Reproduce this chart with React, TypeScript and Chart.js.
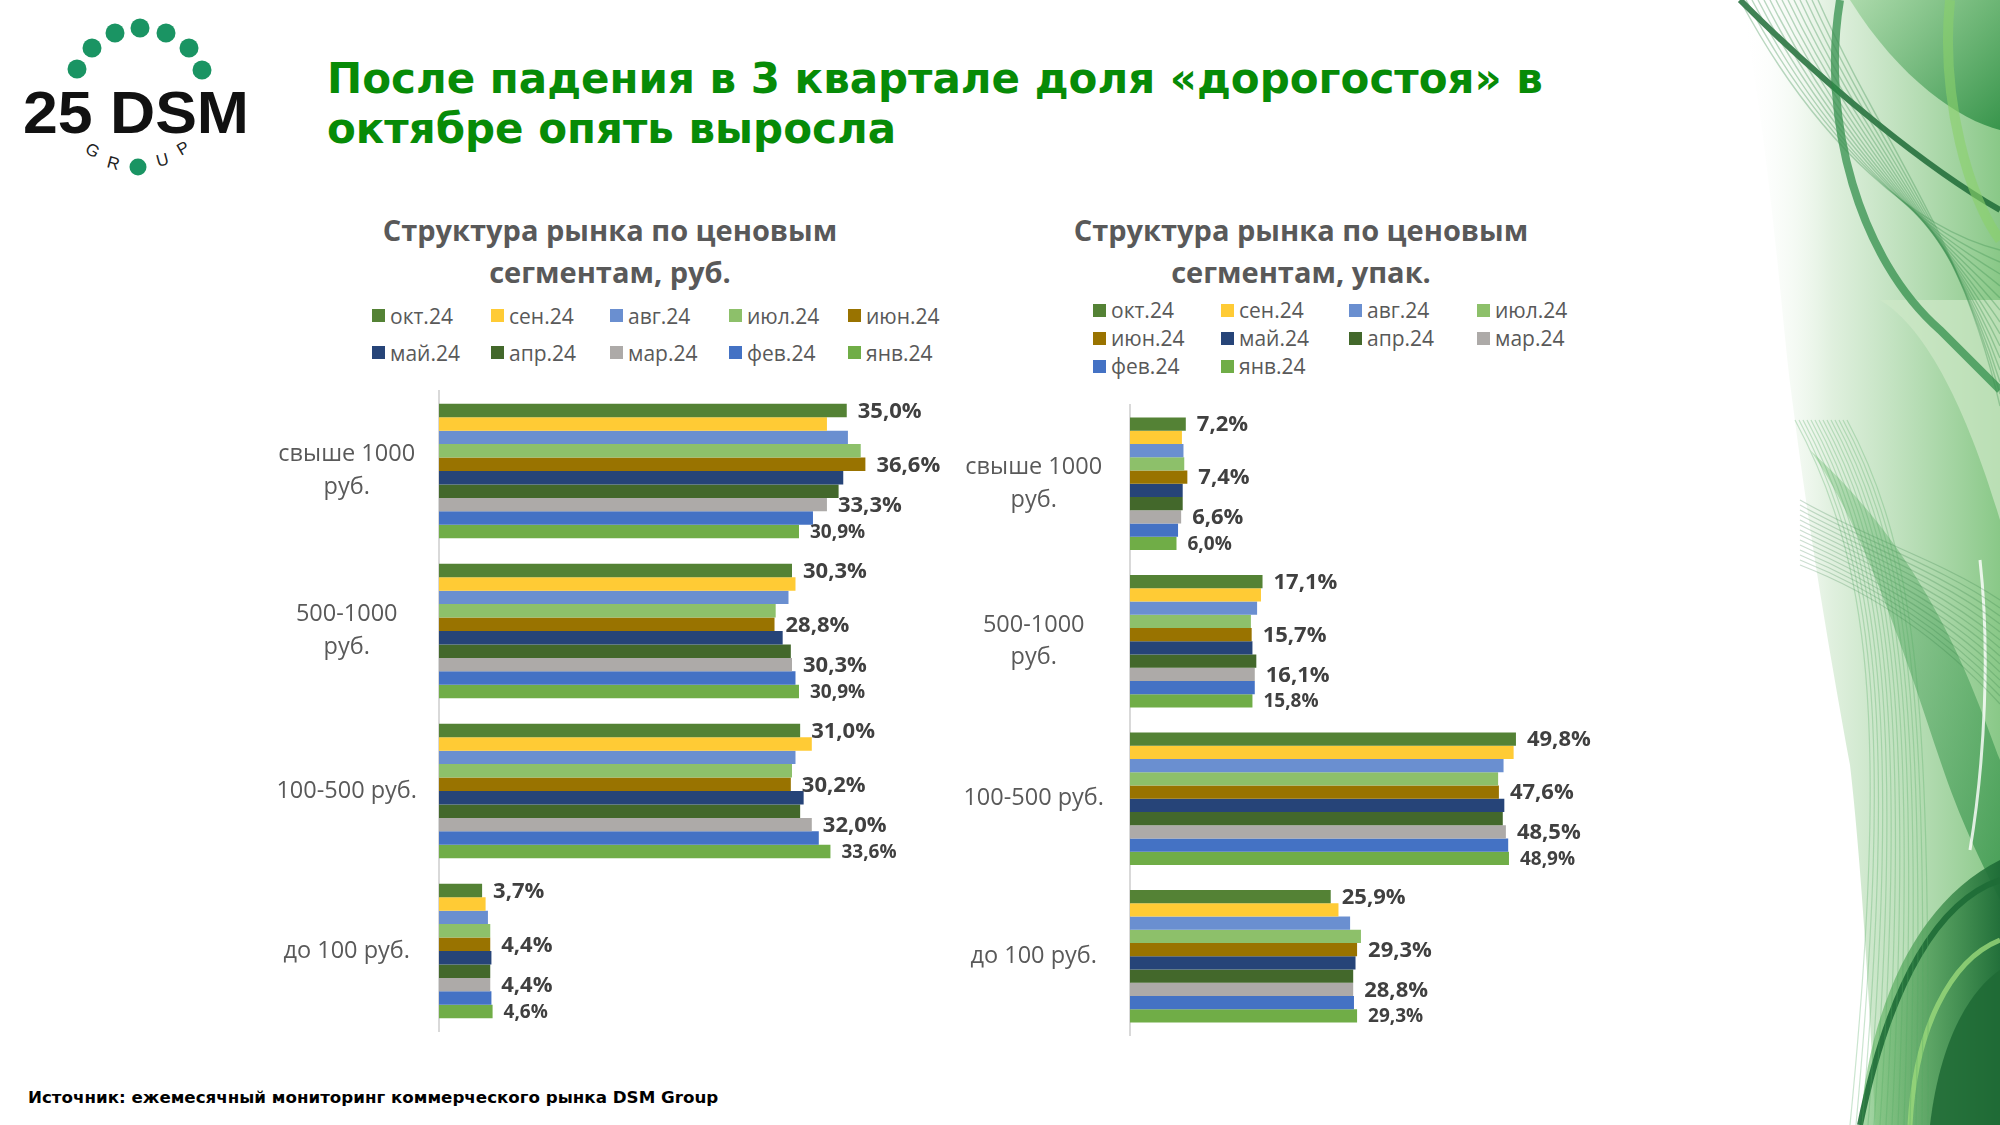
import React, { useEffect, useRef } from "react";
import { Chart, registerables } from "chart.js";

Chart.register(...registerables);

// ---------- data ----------
const months = ["окт.24", "сен.24", "авг.24", "июл.24", "июн.24", "май.24", "апр.24", "мар.24", "фев.24", "янв.24"];
const monthColors = ["#548235", "#FFCB35", "#6A8FD0", "#8DC06A", "#997300", "#264478", "#43682B", "#ADAAA8", "#4472C4", "#70AD47"];
const categories = [["свыше 1000", "руб."], ["500-1000", "руб."], "100-500 руб.", "до 100 руб."];
const labeledSeries = [0, 4, 7, 9];

// market share by value (руб.), per month: [свыше 1000, 500-1000, 100-500, до 100]
const rubOct = [35.0, 30.3, 31.0, 3.7];
const rubSep = [33.3, 30.6, 32.0, 4.0];
const rubAug = [35.1, 30.0, 30.6, 4.2];
const rubJul = [36.2, 28.9, 30.3, 4.4];
const rubJun = [36.6, 28.8, 30.2, 4.4];
const rubMay = [34.7, 29.5, 31.3, 4.5];
const rubApr = [34.3, 30.2, 31.0, 4.4];
const rubMar = [33.3, 30.3, 32.0, 4.4];
const rubFeb = [32.1, 30.6, 32.6, 4.5];
const rubJan = [30.9, 30.9, 33.6, 4.6];

// market share by packs (упак.)
const upOct = [7.2, 17.1, 49.8, 25.9];
const upSep = [6.7, 16.9, 49.5, 26.9];
const upAug = [6.9, 16.4, 48.2, 28.4];
const upJul = [7.0, 15.6, 47.5, 29.8];
const upJun = [7.4, 15.7, 47.6, 29.3];
const upMay = [6.8, 15.8, 48.3, 29.1];
const upApr = [6.8, 16.3, 48.1, 28.8];
const upMar = [6.6, 16.1, 48.5, 28.8];
const upFeb = [6.2, 16.1, 48.8, 28.9];
const upJan = [6.0, 15.8, 48.9, 29.3];

const rubSeries = [rubOct, rubSep, rubAug, rubJul, rubJun, rubMay, rubApr, rubMar, rubFeb, rubJan];
const upSeries = [upOct, upSep, upAug, upJul, upJun, upMay, upApr, upMar, upFeb, upJan];

const fmt = (v: number) => v.toFixed(1).replace(".", ",") + "%";

const valueLabelPlugin = {
  id: "valueLabels",
  afterDatasetsDraw(chart: any) {
    const ctx = chart.ctx;
    ctx.save();
    ctx.fillStyle = "#404040";
    ctx.textBaseline = "middle";
    ctx.textAlign = "left";
    labeledSeries.forEach((di) => {
      const meta = chart.getDatasetMeta(di);
      const small = di === 9;
      ctx.font = `bold ${small ? 19 : 22}px "Open Sans"`;
      meta.data.forEach((bar: any, j: number) => {
        const v = chart.data.datasets[di].data[j];
        ctx.fillText(fmt(v), bar.x + 11, bar.y + 1);
      });
    });
    ctx.restore();
  },
};

type BarProps = {
  series: number[][];
  xMax: number;
  axisWidth: number;
  tickPadding: number;
  padding: { top: number; bottom: number; left: number; right: number };
  left: number;
  top: number;
  width: number;
  height: number;
};

function BarChart(p: BarProps) {
  const ref = useRef<HTMLCanvasElement>(null);
  useEffect(() => {
    if (!ref.current) return;
    const chart = new Chart(ref.current, {
      type: "bar",
      data: {
        labels: categories as any,
        datasets: months.map((m, i) => ({
          label: m,
          data: p.series[i],
          backgroundColor: monthColors[i],
          borderWidth: 0,
          categoryPercentage: 0.84,
          barPercentage: 1,
        })),
      },
      options: {
        indexAxis: "y",
        animation: false,
        responsive: true,
        maintainAspectRatio: false,
        layout: { padding: p.padding },
        plugins: { legend: { display: false }, tooltip: { enabled: false } },
        scales: {
          x: { display: false, min: 0, max: p.xMax },
          y: {
            grid: { display: false, drawTicks: false },
            border: { display: true, color: "#D9D9D9", width: 2 },
            ticks: {
              padding: p.tickPadding,
              crossAlign: "center",
              color: "#595959",
              font: { family: "Open Sans", size: 23.5, lineHeight: 1.38 },
            },
            afterFit: (s: any) => {
              s.width = p.axisWidth;
              s.paddingTop = 0;
              s.paddingBottom = 0;
            },
          },
        },
      } as any,
      plugins: [valueLabelPlugin],
    });
    return () => chart.destroy();
  }, []);
  return (
    <div style={{ position: "absolute", left: p.left, top: p.top, width: p.width, height: p.height }}>
      <canvas ref={ref} />
    </div>
  );
}

function Legend({ left, top, cols, colWidth, rowHeight }: { left: number; top: number; cols: number; colWidth: number; rowHeight: number }) {
  return (
    <div
      style={{
        position: "absolute",
        left,
        top,
        display: "grid",
        gridTemplateColumns: `repeat(${cols}, ${colWidth}px)`,
        gridAutoRows: `${rowHeight}px`,
        fontFamily: "Open Sans",
        fontSize: 21,
        color: "#595959",
      }}
    >
      {months.map((m, i) => (
        <div key={m} style={{ display: "flex", alignItems: "center", whiteSpace: "nowrap" }}>
          <span style={{ width: 13, height: 13, background: monthColors[i], marginRight: 5, display: "inline-block", flex: "none" }} />
          <span>{m}</span>
        </div>
      ))}
    </div>
  );
}

function ChartTitle({ cx, lines }: { cx: number; lines: string[] }) {
  return (
    <div
      style={{
        position: "absolute",
        left: cx - 300,
        width: 600,
        top: 209,
        textAlign: "center",
        fontFamily: "Open Sans",
        fontWeight: 700,
        fontSize: 29,
        lineHeight: "42px",
        color: "#595959",
        whiteSpace: "nowrap",
      }}
    >
      {lines.map((l) => (
        <div key={l}>{l}</div>
      ))}
    </div>
  );
}

function Logo() {
  const dots = [
    [77, 69], [92, 48], [115, 33], [140, 28], [166, 33], [189, 48], [202, 70],
  ];
  return (
    <svg style={{ position: "absolute", left: 0, top: 0 }} width={270} height={190}>
      {dots.map(([x, y], i) => (
        <circle key={i} cx={x} cy={y} r={9.5} fill="#1A9463" />
      ))}
      <text x={23} y={133} fontFamily="Liberation Sans" fontWeight={700} fontSize={60} fill="#111" textLength={226} lengthAdjust="spacingAndGlyphs">
        25 DSM
      </text>
      <text x={84} y={152} fontFamily="Liberation Sans" fontSize={17} fill="#222" transform="rotate(30 84 152)">G</text>
      <text x={106} y={167} fontFamily="Liberation Sans" fontSize={17} fill="#222" transform="rotate(15 106 167)">R</text>
      <circle cx={138} cy={167} r={8.5} fill="#1A9463" />
      <text x={158} y={167} fontFamily="Liberation Sans" fontSize={17} fill="#222" transform="rotate(-15 158 167)">U</text>
      <text x={181} y={156} fontFamily="Liberation Sans" fontSize={17} fill="#222" transform="rotate(-30 181 156)">P</text>
    </svg>
  );
}

function Decoration() {
  const bundle: JSX.Element[] = [];
  for (let k = 0; k < 14; k++) {
    bundle.push(
      <path key={"a" + k} d={`M ${40 + k * 6} 0 C ${120 + k * 5} 150, ${220 + k * 3} 230, 300 ${250 + k * 12}`} stroke="#3C8F4F" strokeOpacity={0.35} strokeWidth={1.4} fill="none" />
    );
    bundle.push(
      <path key={"b" + k} d={`M ${95 + k * 4} 420 C ${170 + k * 4} 560, ${190 + k * 3} 720, ${150 + k * 6} 1125`} stroke="#4FA85F" strokeOpacity={0.3} strokeWidth={1.2} fill="none" />
    );
    bundle.push(
      <path key={"c" + k} d={`M 100 ${500 + k * 5} C 170 ${540 + k * 4}, 240 ${560 + k * 6}, 300 ${600 + k * 8}`} stroke="#2E7D42" strokeOpacity={0.25} strokeWidth={1.2} fill="none" />
    );
  }
  return (
    <svg style={{ position: "absolute", left: 1700, top: 0 }} width={300} height={1125} viewBox="0 0 300 1125">
      <defs>
        <linearGradient id="dg1" x1="0" y1="0" x2="1" y2="0">
          <stop offset="0" stopColor="#ffffff" stopOpacity="0" />
          <stop offset="0.35" stopColor="#d8ecd6" stopOpacity="0.8" />
          <stop offset="1" stopColor="#7cc27a" stopOpacity="0.9" />
        </linearGradient>
        <linearGradient id="dg2" x1="0" y1="0" x2="1" y2="1">
          <stop offset="0" stopColor="#9ad29a" stopOpacity="0.7" />
          <stop offset="1" stopColor="#2f8f45" stopOpacity="0.9" />
        </linearGradient>
        <linearGradient id="dg3" x1="0" y1="0" x2="1" y2="0">
          <stop offset="0" stopColor="#6cbf6a" stopOpacity="0.6" />
          <stop offset="1" stopColor="#1d6b36" stopOpacity="0.95" />
        </linearGradient>
      </defs>
      <path d="M 41 0 C 70 150, 80 300, 90 383 C 105 500, 120 600, 150 765 C 160 850, 170 1000, 175 1125 L 300 1125 L 300 0 Z" fill="url(#dg1)" />
      <path d="M 150 0 C 200 80, 260 120, 300 130 L 300 0 Z" fill="url(#dg2)" />
      <path d="M 180 300 C 230 330, 270 420, 300 520 L 300 300 Z" fill="#cfe8c8" opacity={0.7} />
      <path d="M 110 450 C 160 520, 200 640, 240 760 C 260 820, 280 860, 300 900 L 300 760 C 270 680, 230 560, 110 450 Z" fill="url(#dg2)" opacity={0.8} />
      <path d="M 160 1125 C 170 1000, 220 900, 300 860 L 300 1125 Z" fill="url(#dg3)" />
      <path d="M 230 1125 C 240 1040, 270 990, 300 970 L 300 1125 Z" fill="#1f6a35" opacity={0.85} />
      <path d="M 40 0 C 130 90, 230 170, 300 210" stroke="#1f6b37" strokeWidth={6} fill="none" opacity={0.85} />
      <path d="M 140 0 C 120 120, 160 260, 240 330 C 270 360, 290 380, 300 390" stroke="#2a8a44" strokeWidth={8} fill="none" opacity={0.7} />
      <path d="M 250 0 C 240 100, 270 200, 300 240" stroke="#8bd16a" strokeWidth={10} fill="none" opacity={0.6} />
      <path d="M 160 1125 C 190 980, 240 900, 300 880" stroke="#1e6b36" strokeWidth={6} fill="none" opacity={0.9} />
      <path d="M 210 1125 C 215 1030, 250 960, 300 940" stroke="#9bd97a" strokeWidth={5} fill="none" opacity={0.8} />
      <path d="M 280 560 C 290 650, 285 760, 270 850" stroke="#ffffff" strokeWidth={3} fill="none" opacity={0.8} />
      {bundle}
    </svg>
  );
}

export default function App() {
  return (
    <div style={{ position: "fixed", left: 0, top: 0, width: 2000, height: 1125, background: "#ffffff", overflow: "hidden" }}>
      <Decoration />
      <Logo />
      <div
        style={{
          position: "absolute",
          left: 327,
          top: 54,
          fontFamily: "DejaVu Sans",
          fontWeight: 700,
          fontSize: 42,
          lineHeight: "50px",
          color: "#078B07",
          whiteSpace: "nowrap",
        }}
      >
        После падения в 3 квартале доля «дорогостоя» в
        <br />
        октябре опять выросла
      </div>

      <ChartTitle cx={610} lines={["Структура рынка по ценовым", "сегментам, руб."]} />
      <ChartTitle cx={1301} lines={["Структура рынка по ценовым", "сегментам, упак."]} />

      <Legend left={372} top={297} cols={5} colWidth={119} rowHeight={37} />
      <Legend left={1093} top={296} cols={4} colWidth={128} rowHeight={28} />

      <BarChart
        series={rubSeries}
        xMax={40}
        axisWidth={239}
        tickPadding={22}
        padding={{ top: 6, bottom: 14, left: 0, right: 55 }}
        left={200}
        top={385}
        width={760}
        height={660}
      />
      <BarChart
        series={upSeries}
        xMax={60}
        axisWidth={170}
        tickPadding={26}
        padding={{ top: 10, bottom: 10, left: 0, right: 45 }}
        left={960}
        top={395}
        width={680}
        height={650}
      />

      <div
        style={{
          position: "absolute",
          left: 28,
          top: 1087,
          fontFamily: "DejaVu Sans",
          fontWeight: 700,
          fontSize: 16.7,
          color: "#000",
          whiteSpace: "nowrap",
        }}
      >
        Источник: ежемесячный мониторинг коммерческого рынка DSM Group
      </div>
    </div>
  );
}
